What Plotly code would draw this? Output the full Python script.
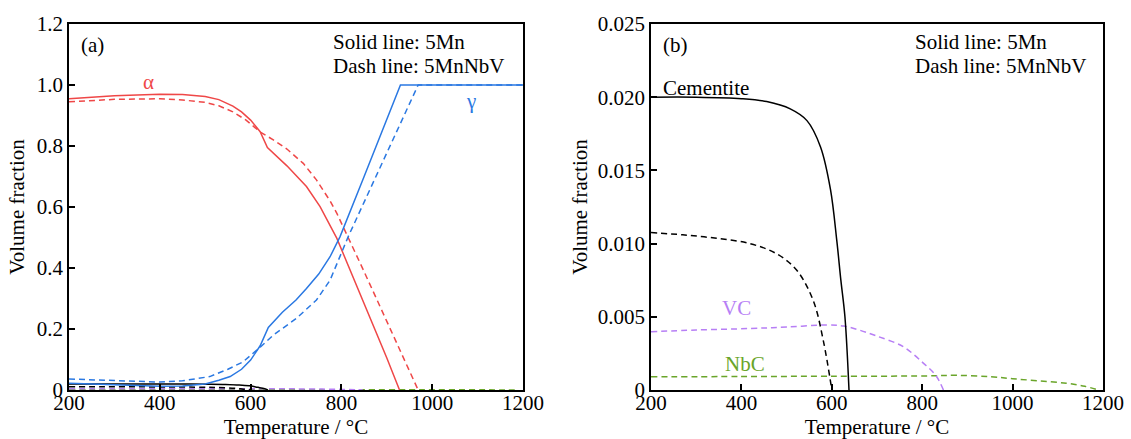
import plotly.graph_objects as go

# ---- data: panel (a) major phases ----
T_alpha_5Mn = [200, 300, 400, 450, 500, 530, 561, 580, 600, 621, 637, 680, 723, 753, 790, 830, 870, 900, 928]
alpha_5Mn = [0.955, 0.965, 0.970, 0.969, 0.962, 0.952, 0.931, 0.912, 0.885, 0.847, 0.795, 0.735, 0.667, 0.601, 0.497, 0.355, 0.212, 0.105, 0.0]

T_alpha_NbV = [200, 300, 400, 450, 500, 530, 561, 590, 621, 650, 680, 716, 745, 775, 790, 812, 850, 900, 940, 969]
alpha_NbV = [0.945, 0.953, 0.955, 0.951, 0.943, 0.932, 0.912, 0.885, 0.846, 0.820, 0.790, 0.743, 0.689, 0.620, 0.579, 0.510, 0.388, 0.225, 0.095, 0.0]

T_gamma_5Mn = [200, 300, 400, 450, 500, 530, 555, 580, 600, 621, 639, 670, 700, 723, 750, 775, 797, 850, 900, 930, 1200]
gamma_5Mn = [0.022, 0.016, 0.012, 0.013, 0.020, 0.032, 0.044, 0.068, 0.098, 0.145, 0.205, 0.255, 0.295, 0.333, 0.380, 0.437, 0.503, 0.700, 0.888, 1.0, 1.0]

T_gamma_NbV = [200, 300, 400, 450, 510, 550, 583, 621, 650, 701, 745, 775, 804, 815, 850, 900, 969, 1200]
gamma_NbV = [0.036, 0.030, 0.026, 0.030, 0.044, 0.068, 0.092, 0.140, 0.180, 0.235, 0.295, 0.360, 0.460, 0.503, 0.616, 0.777, 1.0, 1.0]

# ---- data: minor phases (both panels) ----
T_cem_5Mn = [200, 300, 400, 456, 508, 545, 575, 597, 611, 620, 629, 638]
cem_5Mn = [0.0200, 0.0200, 0.0199, 0.0197, 0.0192, 0.0184, 0.0166, 0.0137, 0.0102, 0.0075, 0.0050, 0.0]

T_cem_NbV = [200, 270, 345, 419, 478, 522, 559, 581, 600]
cem_NbV = [0.01075, 0.0106, 0.01036, 0.0100, 0.0093, 0.0082, 0.0061, 0.0034, 0.0]

T_VC = [200, 300, 419, 500, 589, 626, 660, 699, 758, 803, 830, 847]
VC = [0.00398, 0.0041, 0.0042, 0.0043, 0.00444, 0.00437, 0.0041, 0.00369, 0.00296, 0.00182, 0.0010, 0.0]

T_NbC = [200, 400, 600, 808, 874, 950, 1000, 1060, 1119, 1160, 1190]
NbC = [0.0009, 0.00092, 0.00094, 0.00096, 0.0010, 0.00091, 0.00077, 0.00062, 0.00046, 0.00025, 0.0]

x_ticks = [200, 400, 600, 800, 1000, 1200]
ya_ticks = [0, 0.2, 0.4, 0.6, 0.8, 1.0, 1.2]
ya_text = ["0", "0.2", "0.4", "0.6", "0.8", "1.0", "1.2"]
yb_ticks = [0, 0.005, 0.010, 0.015, 0.020, 0.025]
yb_text = ["0", "0.005", "0.010", "0.015", "0.020", "0.025"]

RED = "#EF4747"
BLUE = "#2A78E2"
VIOLET = "#B77FF5"
GREEN = "#6AA52A"
BLACK = "#000000"
FONT = "Liberation Serif"
DASH = "6px,4px"
FS = 21

fig = go.Figure()

def add(x, y, color, dash, xa, ya, shape="linear"):
    fig.add_trace(go.Scatter(x=x, y=y, mode="lines", xaxis=xa, yaxis=ya,
                             line=dict(color=color, width=1.5, dash=dash, shape=shape),
                             showlegend=False, hoverinfo="skip"))

# panel (a)
add(T_NbC, NbC, GREEN, DASH, "x", "y", "spline")
add(T_VC, VC, VIOLET, DASH, "x", "y", "spline")
add(T_cem_NbV, cem_NbV, BLACK, DASH, "x", "y", "spline")
add(T_cem_5Mn, cem_5Mn, BLACK, "solid", "x", "y", "spline")
add(T_alpha_5Mn, alpha_5Mn, RED, "solid", "x", "y")
add(T_alpha_NbV, alpha_NbV, RED, DASH, "x", "y")
add(T_gamma_5Mn, gamma_5Mn, BLUE, "solid", "x", "y")
add(T_gamma_NbV, gamma_NbV, BLUE, DASH, "x", "y")

# panel (b)
add(T_NbC, NbC, GREEN, DASH, "x2", "y2", "spline")
add(T_VC, VC, VIOLET, DASH, "x2", "y2", "spline")
add(T_cem_NbV, cem_NbV, BLACK, DASH, "x2", "y2", "spline")
add(T_cem_5Mn, cem_5Mn, BLACK, "solid", "x2", "y2", "spline")

axis_common = dict(showline=True, linecolor="black", linewidth=1.5, mirror=True,
                   ticks="inside", ticklen=6, tickwidth=1.5, tickcolor="black",
                   showgrid=False, zeroline=False, automargin=False,
                   tickfont=dict(family=FONT, size=FS, color="black"))

fig.update_layout(
    width=1131, height=439,
    margin=dict(l=69, r=28, t=24, b=49),
    paper_bgcolor="white", plot_bgcolor="white",
    font=dict(family=FONT, size=FS, color="black"),
    xaxis=dict(domain=[0, 0.4391], range=[200, 1200], tickvals=x_ticks, ticklabelstandoff=-7,
               title=dict(text="Temperature / °C", font=dict(family=FONT, size=FS), standoff=6),
               anchor="y", **axis_common),
    yaxis=dict(range=[0, 1.2], tickvals=ya_ticks, ticktext=ya_text,
               title=dict(text="Volume fraction", font=dict(family=FONT, size=FS), standoff=6),
               anchor="x", **axis_common),
    xaxis2=dict(domain=[0.5629, 1], range=[200, 1200], tickvals=x_ticks, ticklabelstandoff=-7,
                title=dict(text="Temperature / °C", font=dict(family=FONT, size=FS), standoff=6),
                anchor="y2", **axis_common),
    yaxis2=dict(range=[0, 0.025], tickvals=yb_ticks, ticktext=yb_text,
                title=dict(text="Volume fraction", font=dict(family=FONT, size=FS), standoff=4),
                anchor="x2", **axis_common),
)

def ann(text, x, y, xref, yref, color="black", xanchor="left", size=FS):
    fig.add_annotation(text=text, x=x, y=y, xref=xref, yref=yref, showarrow=False,
                       xanchor=xanchor, yanchor="middle",
                       font=dict(family=FONT, size=size, color=color))

ann("(a)", 0.022, 0.943, "x domain", "y domain")
ann("Solid line: 5Mn", 0.577, 0.951, "x domain", "y domain")
ann("Dash line: 5MnNbV", 0.577, 0.885, "x domain", "y domain")
ann("α", 374, 1.01, "x", "y", RED, "center")
ann("γ", 1085, 0.948, "x", "y", BLUE, "center")

ann("(b)", 0.022, 0.943, "x2 domain", "y2 domain")
ann("Solid line: 5Mn", 0.580, 0.951, "x2 domain", "y2 domain")
ann("Dash line: 5MnNbV", 0.580, 0.885, "x2 domain", "y2 domain")
ann("Cementite", 222, 0.02063, "x2", "y2")
ann("VC", 388, 0.0056, "x2", "y2", VIOLET, "center")
ann("NbC", 408, 0.00178, "x2", "y2", GREEN, "center")

fig.write_html("out.html")
